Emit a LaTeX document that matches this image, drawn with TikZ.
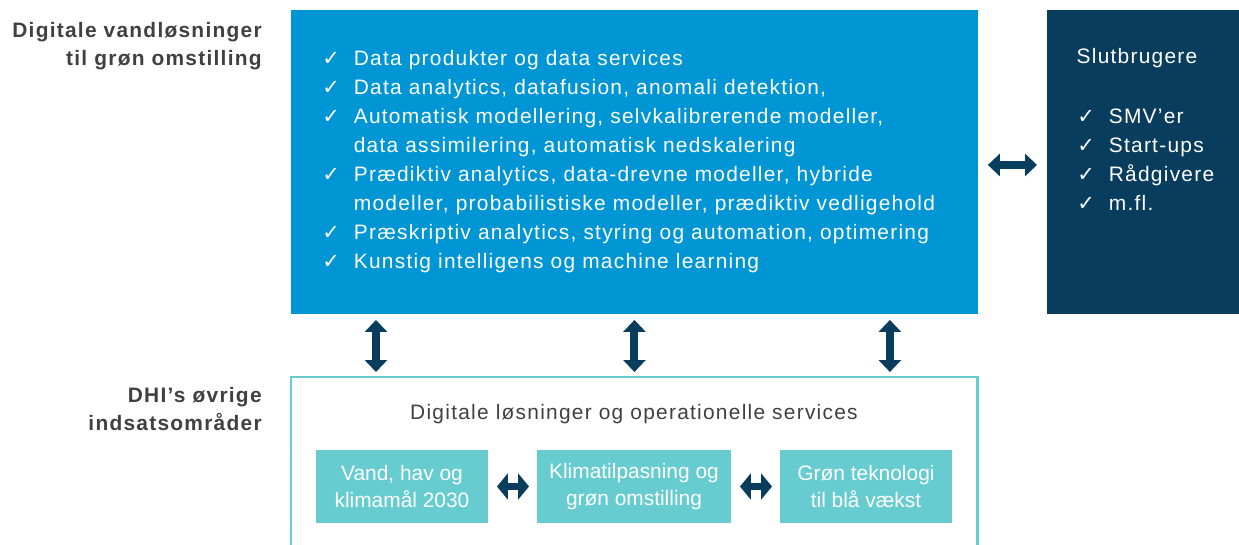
\documentclass[tikz,border=0pt]{standalone}
\usepackage{fontspec}
\setmainfont{Liberation Sans}[LetterSpace=6]
\newfontfamily\plainfont{Liberation Sans}
\newfontfamily\symfont{DejaVu Sans}
\usetikzlibrary{arrows.meta,positioning}

\definecolor{dhiblue}{RGB}{0,150,214}
\definecolor{dhinavy}{RGB}{8,61,94}
\definecolor{dhiteal}{RGB}{102,204,208}
\definecolor{txtgray}{RGB}{64,64,64}

\newcommand{\chk}{{\symfont\char"2713}}
\newcommand{\bodyfont}{\fontsize{11.9}{16.5}\selectfont}

\begin{document}
\begin{tikzpicture}[x=0.02cm, y=-0.02cm,
  panel/.style={anchor=north west, inner sep=0, outer sep=0, minimum height=6.08cm},
  area/.style={anchor=north west, inner sep=0, outer sep=0, fill=dhiteal,
    minimum width=3.44cm, minimum height=1.46cm, text=white, align=center,
    font=\plainfont\fontsize{11.9}{15}\selectfont},
  sidelabel/.style={anchor=north east, inner sep=0, align=right, text=txtgray,
    font=\fontsize{11.9}{16}\selectfont\bfseries},
  dblarrow/.style={draw=dhinavy, line width=0.16cm,
    {Triangle[width=0.44cm,length=0.24cm]}-{Triangle[width=0.44cm,length=0.24cm]}},
  smallarrow/.style={dblarrow,
    {Triangle[width=0.52cm,length=0.22cm]}-{Triangle[width=0.52cm,length=0.22cm]}}]
 \useasboundingbox (0,0) rectangle (1239,544);

 % top row: digital solutions and end users
 \node[panel, fill=dhiblue, minimum width=13.74cm] (data) at (291,10) {};
 \node[panel, fill=dhinavy, minimum width=3.84cm] (users) at (1047,10) {};

 \node[anchor=north west, inner sep=0, text=white, font=\bodyfont] (datalist) at (322,45)
 {\begin{tabular}{@{}l@{\hspace{0.28cm}}l@{}}
  \chk & Data produkter og data services \\
  \chk & Data analytics, datafusion, anomali detektion, \\
  \chk & Automatisk modellering, selvkalibrerende modeller, \\
       & data assimilering, automatisk nedskalering \\
  \chk & Prædiktiv analytics, data-drevne modeller, hybride \\
       & modeller, probabilistiske modeller, prædiktiv vedligehold \\
  \chk & Præskriptiv analytics, styring og automation, optimering \\
  \chk & Kunstig intelligens og machine learning
 \end{tabular}};

 \node[text=white, font=\bodyfont] (userstitle) at (1137,58) {Slutbrugere};
 \node[anchor=north west, inner sep=0, text=white, font=\bodyfont] (userlist) at (1077,103)
 {\begin{tabular}{@{}l@{\hspace{0.28cm}}l@{}}
  \chk & SMV’er \\
  \chk & Start-ups \\
  \chk & Rådgivere \\
  \chk & m.fl.
 \end{tabular}};

 % bottom row: the other DHI areas
 \node[panel, draw=dhiteal, line width=1.7pt, minimum width=13.74cm, minimum height=3.6cm] (ops) at (291,377) {};
 \node[text=txtgray, font=\bodyfont] (opstitle) at (634,414) {Digitale løsninger og operationelle services};
 \node[area] (vand) at (316,450) {Vand, hav og\\klimamål 2030};
 \node[area, minimum width=3.88cm] (klima) at (537,450) {Klimatilpasning og\\grøn omstilling};
 \node[area] (tek) at (780,450) {Grøn teknologi\\til blå vækst};

 % labels on the left
 \node[sidelabel] (lbltop) at (262,22) {Digitale vandløsninger\\til grøn omstilling};
 \node[sidelabel] (lblbot) at (262,387) {DHI’s øvrige\\indsatsområder};

 % arrows
 \draw[dblarrow] ([xshift=0.2cm,yshift=-0.06cm]data.east) -- ([xshift=-0.2cm,yshift=-0.06cm]users.west);
 \foreach \dx in {-5.17,0,5.11}
  \draw[dblarrow] ([xshift=\dx cm,yshift=-0.12cm]data.south) -- ([xshift=\dx cm,yshift=0.1cm]ops.north);
 \draw[smallarrow] ([xshift=0.18cm]vand.east) -- ([xshift=-0.16cm]klima.west);
 \draw[smallarrow] ([xshift=0.18cm]klima.east) -- ([xshift=-0.16cm]tek.west);
\end{tikzpicture}
\end{document}
